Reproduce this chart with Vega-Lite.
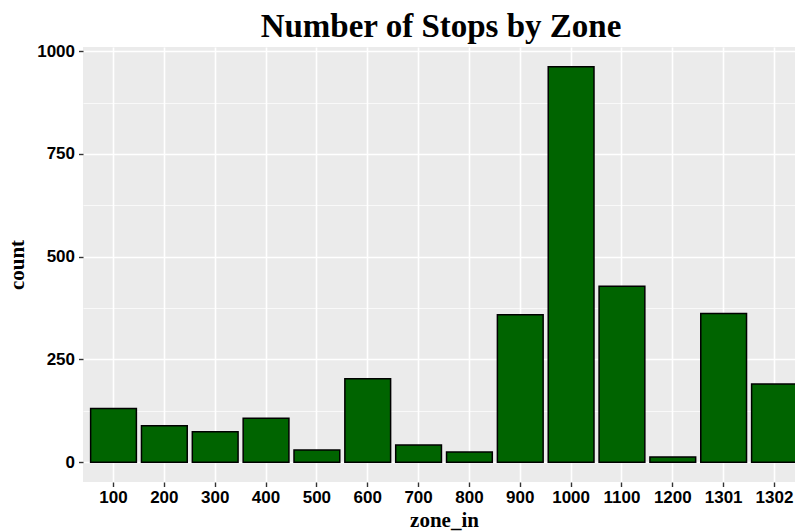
{
  "$schema": "https://vega.github.io/schema/vega-lite/v6.json",
  "autosize": "none",
  "width": 722,
  "height": 435,
  "padding": {"left": 83, "top": 47, "right": 0, "bottom": 49},
  "background": "white",
  "title": {
    "text": "Number of Stops by Zone",
    "font": "Liberation Serif",
    "fontSize": 33,
    "fontWeight": "bold",
    "color": "black",
    "anchor": "middle",
    "frame": "group",
    "offset": 8,
    "dy": 10,
    "dx": -3
  },
  "config": {
    "view": {"fill": "#EBEBEB", "stroke": null},
    "axis": {
      "gridColor": "white",
      "gridWidth": 1.6,
      "domain": false,
      "tickColor": "#333333",
      "tickWidth": 1.4,
      "tickSize": 4.5,
      "labelFont": "Liberation Sans",
      "labelFontWeight": "bold",
      "labelFontSize": 17,
      "labelColor": "black",
      "titleFont": "Liberation Serif",
      "titleFontWeight": "bold",
      "titleFontSize": 21,
      "titleColor": "black"
    }
  },
  "data": {
    "values": [
      {"zone_in": "100", "count": 131},
      {"zone_in": "200", "count": 89},
      {"zone_in": "300", "count": 74},
      {"zone_in": "400", "count": 107},
      {"zone_in": "500", "count": 30},
      {"zone_in": "600", "count": 203},
      {"zone_in": "700", "count": 42},
      {"zone_in": "800", "count": 25},
      {"zone_in": "900", "count": 359},
      {"zone_in": "1000", "count": 962},
      {"zone_in": "1100", "count": 428},
      {"zone_in": "1200", "count": 13},
      {"zone_in": "1301", "count": 362},
      {"zone_in": "1302", "count": 190}
    ]
  },
  "encoding": {
    "x": {
      "field": "zone_in",
      "type": "nominal",
      "sort": null,
      "scale": {"paddingInner": 0.1, "paddingOuter": 0.15},
      "axis": {
        "title": "zone_in",
        "labelAngle": 0,
        "grid": true,
        "bandPosition": 0.5,
        "labelPadding": 3,
        "titlePadding": 4
      }
    },
    "y": {
      "field": "count",
      "type": "quantitative",
      "scale": {"domain": [-48.1, 1010.1], "nice": false, "zero": false},
      "axis": {
        "title": "count",
        "format": "d",
        "values": [0, 250, 500, 750, 1000],
        "labelPadding": 4,
        "titlePadding": 9
      }
    }
  },
  "layer": [
    {
      "mark": {"type": "bar", "fill": "#006400", "stroke": "black", "strokeWidth": 1.5}
    },
    {
      "mark": {"type": "tick", "opacity": 0},
      "encoding": {
        "y": {
          "field": "count",
          "type": "quantitative",
          "axis": {
            "orient": "left",
            "values": [125, 375, 625, 875],
            "grid": true,
            "gridWidth": 0.7,
            "labels": false,
            "ticks": false,
            "domain": false,
            "title": null
          }
        }
      }
    }
  ],
  "resolve": {"axis": {"y": "independent"}}
}
